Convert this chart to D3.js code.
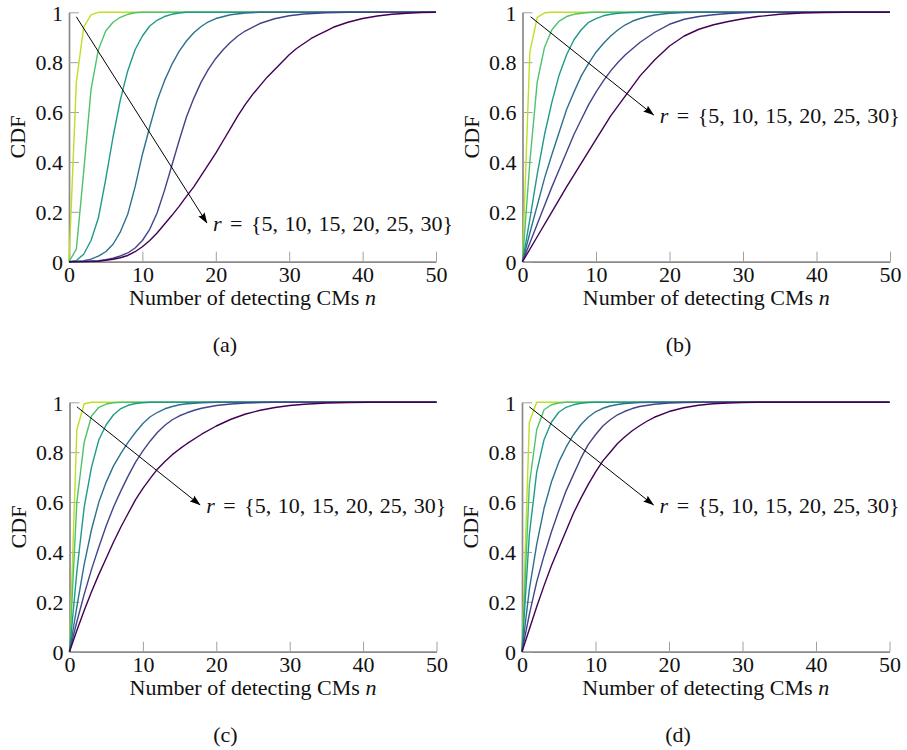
<!DOCTYPE html>
<html>
<head>
<meta charset="utf-8">
<script src="https://cdn.jsdelivr.net/npm/d3@7/dist/d3.min.js"></script>
<style>
  html, body { margin: 0; padding: 0; background: #fff; }
  svg { display: block; }
  text { font-family: "Liberation Serif", "Times New Roman", serif; fill: #111; }
</style>
</head>
<body>
<svg id="chart" width="907" height="750"></svg>
<script>
// Redundancy values r shared by every panel
const rValues = [5, 10, 15, 20, 25, 30];
const xTicks = [0, 10, 20, 30, 40, 50];
const yTicks = [0, 0.2, 0.4, 0.6, 0.8, 1];
const captions = ["(a)", "(b)", "(c)", "(d)"];

// CDF of the number of detecting CMs, [n, CDF] per r
// panel (a)
const a5 = [[0,0],[1,0.72],[2,0.94],[3,0.99],[4,1],[50,1]];
const a10 = [[0,0],[1,0.05],[2,0.36],[3,0.69],[4,0.85],[5,0.925],[6,0.96],[7,0.98],[8,0.992],[9,0.998],[10,1],[50,1]];
const a15 = [[0,0],[1,0.005],[2,0.03],[3,0.085],[4,0.175],[5,0.33],[6,0.5],[7,0.65],[8,0.765],[9,0.85],[10,0.905],[11,0.945],[12,0.968],[13,0.983],[14,0.992],[15,0.997],[16,1],[50,1]];
const a20 = [[0,0],[2,0.004],[3,0.01],[4,0.022],[5,0.04],[6,0.07],[7,0.12],[8,0.19],[9,0.3],[10,0.43],[11,0.54],[12,0.645],[13,0.725],[14,0.79],[15,0.843],[16,0.885],[17,0.918],[18,0.943],[19,0.962],[20,0.975],[22,0.99],[24,0.997],[26,1],[50,1]];
const a25 = [[0,0],[2,0.001],[4,0.004],[5,0.008],[6,0.014],[7,0.023],[8,0.035],[9,0.055],[10,0.085],[11,0.13],[12,0.195],[13,0.285],[14,0.385],[15,0.485],[16,0.58],[17,0.655],[18,0.72],[19,0.772],[20,0.815],[21,0.85],[22,0.88],[23,0.905],[24,0.925],[26,0.955],[28,0.974],[30,0.986],[32,0.993],[35,0.998],[38,1],[50,1]];
const a30 = [[0,0],[2,0.0005],[4,0.002],[6,0.01],[7,0.016],[8,0.025],[9,0.04],[10,0.06],[11,0.085],[12,0.115],[13,0.15],[14,0.185],[15,0.222],[16,0.262],[17,0.3],[18,0.345],[19,0.39],[20,0.435],[21,0.485],[22,0.535],[23,0.585],[24,0.63],[25,0.67],[26,0.705],[27,0.74],[28,0.77],[29,0.8],[30,0.83],[31,0.855],[32,0.875],[33,0.895],[34,0.91],[35,0.925],[36,0.94],[38,0.96],[40,0.975],[42,0.985],[44,0.992],[46,0.996],[48,0.999],[50,1]];
// panel (b)
const b5 = [[0,0],[1,0.84],[2,0.98],[3,0.998],[4,1],[50,1]];
const b10 = [[0,0],[1,0.4],[2,0.72],[3,0.86],[4,0.93],[5,0.965],[6,0.983],[7,0.992],[8,0.996],[9,0.999],[10,1],[50,1]];
const b15 = [[0,0],[1,0.17],[2,0.35],[3,0.51],[4,0.64],[5,0.75],[6,0.83],[7,0.89],[8,0.93],[9,0.96],[10,0.975],[11,0.986],[12,0.992],[13,0.996],[14,0.998],[16,1],[50,1]];
const b20 = [[0,0],[1,0.115],[2,0.225],[3,0.335],[4,0.43],[5,0.52],[6,0.61],[7,0.68],[8,0.745],[9,0.795],[10,0.84],[11,0.875],[12,0.905],[13,0.93],[14,0.95],[15,0.965],[16,0.975],[17,0.983],[18,0.989],[20,0.996],[22,0.999],[24,1],[50,1]];
const b25 = [[0,0],[1,0.075],[2,0.15],[3,0.225],[4,0.3],[5,0.37],[6,0.44],[7,0.51],[8,0.57],[9,0.63],[10,0.68],[11,0.725],[12,0.765],[13,0.8],[14,0.83],[16,0.88],[18,0.92],[20,0.952],[22,0.972],[24,0.983],[26,0.99],[28,0.995],[30,0.998],[32,1],[50,1]];
const b30 = [[0,0],[2,0.1],[4,0.2],[6,0.3],[8,0.395],[10,0.49],[12,0.585],[14,0.665],[16,0.745],[18,0.81],[20,0.865],[22,0.905],[24,0.932],[26,0.95],[28,0.963],[30,0.974],[32,0.983],[35,0.992],[38,0.997],[41,0.999],[44,1],[50,1]];
// panel (c)
const c5 = [[0,0],[1,0.89],[2,0.994],[3,1],[50,1]];
const c10 = [[0,0],[1,0.6],[2,0.84],[3,0.945],[4,0.98],[5,0.993],[6,0.998],[7,1],[50,1]];
const c15 = [[0,0],[1,0.32],[2,0.58],[3,0.74],[4,0.85],[5,0.91],[6,0.95],[7,0.975],[8,0.988],[9,0.995],[10,0.998],[11,1],[50,1]];
const c20 = [[0,0],[1,0.18],[2,0.35],[3,0.49],[4,0.6],[5,0.68],[6,0.745],[7,0.795],[8,0.84],[9,0.88],[10,0.915],[11,0.942],[12,0.96],[13,0.974],[14,0.983],[15,0.99],[16,0.994],[18,0.998],[20,1],[50,1]];
const c25 = [[0,0],[1,0.12],[2,0.23],[3,0.33],[4,0.42],[5,0.505],[6,0.58],[7,0.645],[8,0.705],[9,0.76],[10,0.805],[11,0.845],[12,0.88],[13,0.908],[14,0.93],[15,0.946],[16,0.958],[17,0.968],[18,0.976],[20,0.987],[22,0.993],[24,0.997],[26,0.999],[28,1],[50,1]];
const c30 = [[0,0],[1,0.085],[2,0.165],[3,0.24],[4,0.31],[5,0.375],[6,0.44],[7,0.5],[8,0.555],[9,0.61],[10,0.655],[11,0.695],[12,0.733],[13,0.763],[14,0.79],[15,0.813],[16,0.834],[18,0.872],[20,0.905],[22,0.932],[24,0.953],[26,0.968],[28,0.979],[30,0.987],[32,0.992],[35,0.997],[38,0.999],[41,1],[50,1]];
// panel (d)
const d5 = [[0,0],[1,0.92],[2,1],[50,1]];
const d10 = [[0,0],[1,0.67],[2,0.89],[3,0.97],[4,0.99],[5,0.997],[6,1],[50,1]];
const d15 = [[0,0],[1,0.47],[2,0.72],[3,0.85],[4,0.92],[5,0.96],[6,0.98],[7,0.99],[8,0.996],[9,0.999],[10,1],[50,1]];
const d20 = [[0,0],[1,0.25],[2,0.43],[3,0.575],[4,0.68],[5,0.76],[6,0.82],[7,0.87],[8,0.91],[9,0.94],[10,0.962],[11,0.976],[12,0.985],[13,0.991],[14,0.995],[16,0.999],[18,1],[50,1]];
const d25 = [[0,0],[1,0.15],[2,0.28],[3,0.385],[4,0.48],[5,0.565],[6,0.645],[7,0.71],[8,0.775],[9,0.83],[10,0.87],[11,0.905],[12,0.93],[13,0.95],[14,0.964],[15,0.975],[16,0.983],[18,0.992],[20,0.997],[22,0.999],[24,1],[50,1]];
const d30 = [[0,0],[1,0.09],[2,0.18],[3,0.265],[4,0.345],[5,0.415],[6,0.485],[7,0.555],[8,0.615],[9,0.67],[10,0.72],[11,0.765],[12,0.8],[13,0.835],[14,0.862],[15,0.886],[16,0.906],[17,0.924],[18,0.94],[20,0.963],[22,0.978],[24,0.988],[26,0.994],[28,0.997],[30,0.999],[32,1],[50,1]];

const panelSeries = [
  [a5, a10, a15, a20, a25, a30],
  [b5, b10, b15, b20, b25, b30],
  [c5, c10, c15, c20, c25, c30],
  [d5, d10, d15, d20, d25, d30]
];

// Annotation arrow (data coordinates): from near the top-left towards the label
const arrowFrom = [[1, 0.982], [1.1, 0.982], [1, 0.982], [1, 0.982]];
const arrowTo = [[18.8, 0.155], [17.85, 0.588], [17.8, 0.588], [17.9, 0.588]];

// ---- layout ----
const frames = [
  { left: 69,    right: 436,   bottom: 261.7, top: 12.3 },
  { left: 522.5, right: 890,   bottom: 261.7, top: 12.3 },
  { left: 69.5,  right: 436.5, bottom: 651.7, top: 402.3 },
  { left: 522,   right: 889.5, bottom: 651.7, top: 402.3 }
];
const FONT = 22;
const colorAt = [0.9, 0.72, 0.54, 0.37, 0.2, 0.0].map(t => d3.interpolateViridis(t));

const svg = d3.select("#chart");
const defs = svg.append("defs");
defs.append("marker")
  .attr("id", "arrowhead")
  .attr("markerUnits", "userSpaceOnUse")
  .attr("viewBox", "0 0 11 8")
  .attr("markerWidth", 11).attr("markerHeight", 8)
  .attr("refX", 10.5).attr("refY", 4)
  .attr("orient", "auto")
  .append("path")
  .attr("d", "M0,0.3 L11,4 L0,7.7 Q2.6,4 0,0.3 Z")
  .attr("fill", "#000");

const yFmt = d => (d === 0 ? "0" : d === 1 ? "1" : d3.format(".1f")(d));

frames.forEach((f, i) => {
  const x = d3.scaleLinear().domain([0, 50]).range([f.left, f.right]);
  const y = d3.scaleLinear().domain([0, 1]).range([f.bottom, f.top]);
  const g = svg.append("g");

  // x axis
  const gx = g.append("g")
    .attr("transform", `translate(0,${f.bottom})`)
    .call(d3.axisBottom(x).tickValues(xTicks).tickSizeInner(-10).tickSizeOuter(0).tickPadding(4.5));
  // y axis
  const gy = g.append("g")
    .attr("transform", `translate(${f.left},0)`)
    .call(d3.axisLeft(y).tickValues(yTicks).tickFormat(yFmt).tickSizeInner(-10).tickSizeOuter(0).tickPadding(6));

  [gx, gy].forEach(ax => {
    ax.select(".domain").attr("stroke", "#8a8a8a").attr("stroke-width", 1.7);
    ax.selectAll(".tick line").attr("stroke", "#a0a0a0").attr("stroke-width", 1);
    ax.selectAll(".tick text")
      .attr("fill", "#111")
      .style("font-family", '"Liberation Serif", "Times New Roman", serif')
      .style("font-size", FONT + "px");
  });
  gy.selectAll(".tick text").attr("dy", "0.35em");

  // curves, r = 5 first so r = 30 lies on top
  const line = d3.line().x(d => x(d[0])).y(d => y(d[1]));
  g.selectAll("path.cdf")
    .data(panelSeries[i])
    .join("path")
    .attr("class", "cdf")
    .attr("d", line)
    .attr("fill", "none")
    .attr("stroke", (d, k) => colorAt[k])
    .attr("stroke-width", 1.4)
    .attr("stroke-linejoin", "round");

  // arrow and r label
  const [fx, fy] = arrowFrom[i];
  const [tx, ty] = arrowTo[i];
  g.append("line")
    .attr("x1", x(fx)).attr("y1", y(fy))
    .attr("x2", x(tx)).attr("y2", y(ty))
    .attr("stroke", "#000").attr("stroke-width", 1)
    .attr("marker-end", "url(#arrowhead)");

  const lbl = g.append("text")
    .attr("x", x(tx) + 6)
    .attr("y", y(ty) + 7.5)
    .style("font-size", FONT + "px")
    .style("word-spacing", "1px");
  lbl.append("tspan").attr("font-style", "italic").text("r");
  lbl.append("tspan").attr("dx", 2).text(" =");
  lbl.append("tspan").attr("dx", 2).text(" {" + rValues.join(", ") + "}");

  // axis titles
  g.append("text")
    .attr("x", (f.left + f.right) / 2)
    .attr("y", f.bottom + 43.5)
    .attr("text-anchor", "middle")
    .style("font-size", FONT + "px")
    .call(t => {
      t.append("tspan").text("Number of detecting CMs ");
      t.append("tspan").attr("font-style", "italic").text("n");
    });

  g.append("text")
    .attr("transform", `translate(${f.left - 44},${(f.top + f.bottom) / 2}) rotate(-90)`)
    .attr("text-anchor", "middle")
    .style("font-size", FONT + "px")
    .text("CDF");

  // sub-figure caption
  g.append("text")
    .attr("x", f.left + 156)
    .attr("y", f.bottom + 90.5)
    .attr("text-anchor", "middle")
    .style("font-size", FONT + "px")
    .text(captions[i]);
});
</script>
</body>
</html>
